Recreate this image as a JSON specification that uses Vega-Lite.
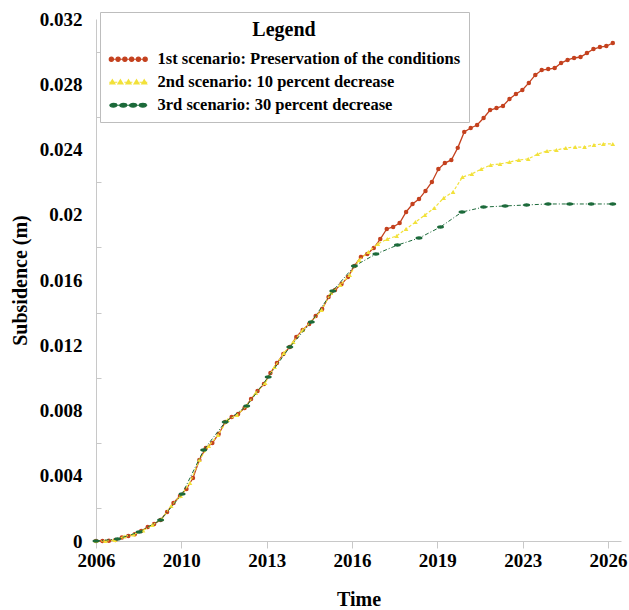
{
  "$schema": "https://vega.github.io/schema/vega-lite/v6.json",
  "autosize": {"type": "none"},
  "width": 525,
  "height": 522,
  "padding": {"left": 96, "top": 19, "right": 8, "bottom": 69},
  "background": "white",
  "datasets": {
    "s1": [
      {"t":0,"v":0},{"t":0.076,"v":0},{"t":0.151,"v":0.00001},{"t":0.227,"v":0.00006},{"t":0.303,"v":0.00021},{"t":0.379,"v":0.00031},{"t":0.454,"v":0.00042},{"t":0.530,"v":0.00061},{"t":0.606,"v":0.00086},{"t":0.681,"v":0.00104},
      {"t":0.757,"v":0.00129},{"t":0.833,"v":0.00178},{"t":0.908,"v":0.00233},{"t":0.984,"v":0.00276},{"t":1.060,"v":0.00319},{"t":1.136,"v":0.00386},{"t":1.211,"v":0.00497},{"t":1.287,"v":0.00570},{"t":1.363,"v":0.00601},{"t":1.438,"v":0.00656},
      {"t":1.514,"v":0.00729},{"t":1.590,"v":0.00760},{"t":1.665,"v":0.00779},{"t":1.741,"v":0.00815},{"t":1.817,"v":0.00870},{"t":1.893,"v":0.00920},{"t":1.968,"v":0.00962},{"t":2.044,"v":0.01030},{"t":2.120,"v":0.01091},{"t":2.195,"v":0.01146},
      {"t":2.271,"v":0.01189},{"t":2.347,"v":0.01251},{"t":2.422,"v":0.01293},{"t":2.498,"v":0.01330},{"t":2.574,"v":0.01379},{"t":2.650,"v":0.01422},{"t":2.725,"v":0.01496},{"t":2.801,"v":0.01539},{"t":2.877,"v":0.01575},{"t":2.952,"v":0.01618},
      {"t":3.028,"v":0.01686},{"t":3.104,"v":0.01741},{"t":3.179,"v":0.01759},{"t":3.255,"v":0.01796},{"t":3.331,"v":0.01851},{"t":3.407,"v":0.01913},{"t":3.482,"v":0.01925},{"t":3.558,"v":0.01949},{"t":3.634,"v":0.02017},{"t":3.709,"v":0.02066},
      {"t":3.785,"v":0.02096},{"t":3.861,"v":0.02146},{"t":3.936,"v":0.02201},{"t":4.012,"v":0.02280},{"t":4.088,"v":0.02317},{"t":4.164,"v":0.02336},{"t":4.239,"v":0.02410},{"t":4.315,"v":0.02508},{"t":4.391,"v":0.02532},{"t":4.466,"v":0.02550},
      {"t":4.542,"v":0.02593},{"t":4.618,"v":0.02642},{"t":4.693,"v":0.02654},{"t":4.769,"v":0.02667},{"t":4.845,"v":0.02709},{"t":4.921,"v":0.02740},{"t":4.996,"v":0.02765},{"t":5.072,"v":0.02808},{"t":5.148,"v":0.02857},{"t":5.223,"v":0.02887},
      {"t":5.299,"v":0.02893},{"t":5.375,"v":0.02899},{"t":5.450,"v":0.02930},{"t":5.526,"v":0.02949},{"t":5.602,"v":0.02961},{"t":5.678,"v":0.02967},{"t":5.753,"v":0.02991},{"t":5.829,"v":0.03016},{"t":5.905,"v":0.03028},{"t":5.980,"v":0.03034},
      {"t":6.056,"v":0.03053}
    ],
    "s2": [
      {"t":0,"v":0},{"t":0.110,"v":0},{"t":0.220,"v":0.00006},{"t":0.330,"v":0.00028},{"t":0.440,"v":0.00040},{"t":0.551,"v":0.00064},{"t":0.661,"v":0.00098},{"t":0.771,"v":0.00135},{"t":0.881,"v":0.00215},{"t":0.991,"v":0.00276},
      {"t":1.101,"v":0.00356},{"t":1.211,"v":0.00497},{"t":1.321,"v":0.00582},{"t":1.431,"v":0.00650},{"t":1.541,"v":0.00742},{"t":1.652,"v":0.00772},{"t":1.762,"v":0.00828},{"t":1.872,"v":0.00907},{"t":1.982,"v":0.00969},{"t":2.092,"v":0.01067},
      {"t":2.202,"v":0.01152},{"t":2.312,"v":0.01220},{"t":2.422,"v":0.01293},{"t":2.532,"v":0.01349},{"t":2.642,"v":0.01416},{"t":2.753,"v":0.01520},{"t":2.863,"v":0.01569},{"t":2.973,"v":0.01631},{"t":3.083,"v":0.01723},{"t":3.193,"v":0.01772},
      {"t":3.303,"v":0.01821},{"t":3.413,"v":0.01851},{"t":3.523,"v":0.01870},{"t":3.633,"v":0.01913},{"t":3.743,"v":0.01955},{"t":3.854,"v":0.01998},{"t":3.964,"v":0.02041},{"t":4.074,"v":0.02103},{"t":4.184,"v":0.02140},{"t":4.294,"v":0.02231},
      {"t":4.404,"v":0.02250},{"t":4.514,"v":0.02280},{"t":4.624,"v":0.02305},{"t":4.734,"v":0.02311},{"t":4.844,"v":0.02323},{"t":4.955,"v":0.02336},{"t":5.065,"v":0.02342},{"t":5.175,"v":0.02372},{"t":5.285,"v":0.02391},{"t":5.395,"v":0.02397},
      {"t":5.505,"v":0.02409},{"t":5.615,"v":0.02415},{"t":5.725,"v":0.02415},{"t":5.835,"v":0.02428},{"t":5.945,"v":0.02434},{"t":6.056,"v":0.02434}
    ],
    "s3": [
      {"t":0,"v":0},{"t":0.252,"v":0.00012},{"t":0.505,"v":0.00055},{"t":0.757,"v":0.00129},{"t":1.009,"v":0.00288},{"t":1.262,"v":0.00558},{"t":1.514,"v":0.00729},{"t":1.766,"v":0.00828},{"t":2.018,"v":0.01005},{"t":2.271,"v":0.01189},
      {"t":2.523,"v":0.01342},{"t":2.775,"v":0.01533},{"t":3.028,"v":0.01686},{"t":3.280,"v":0.01759},{"t":3.532,"v":0.01814},{"t":3.785,"v":0.01857},{"t":4.037,"v":0.01925},{"t":4.289,"v":0.02017},{"t":4.542,"v":0.02047},{"t":4.794,"v":0.02054},
      {"t":5.046,"v":0.02060},{"t":5.298,"v":0.02066},{"t":5.551,"v":0.02066},{"t":5.803,"v":0.02066},{"t":6.055,"v":0.02066}
    ]
  },
  "encoding": {
    "x": {
      "field": "t", "type": "quantitative",
      "scale": {"domain": [0, 6.152], "nice": false, "zero": false},
      "axis": {
        "values": [0, 1, 2, 3, 4, 5, 6],
        "labelExpr": "['2006','2010','2013','2016','2019','2023','2026'][datum.value]",
        "tickSize": 7, "labelPadding": 3, "title": "Time", "titlePadding": 19
      }
    },
    "y": {
      "field": "v", "type": "quantitative",
      "scale": {"domain": [0, 0.032], "nice": false},
      "axis": {
        "values": [0, 0.002, 0.004, 0.006, 0.008, 0.010, 0.012, 0.014, 0.016, 0.018, 0.020, 0.022, 0.024, 0.026, 0.028, 0.030, 0.032],
        "labelExpr": "(round(datum.value*1000) % 4 == 0) ? format(datum.value, '~g') : ''",
        "tickOpacity": {"condition": {"test": "round(datum.value*1000) % 4 != 0", "value": 1}, "value": 0},
        "tickSize": -5, "labelPadding": 19, "title": "Subsidence (m)", "titlePadding": 9
      }
    }
  },
  "layer": [
    {
      "data": {"name": "s1"},
      "layer": [
        {
          "mark": {"type": "line", "strokeWidth": 1.3},
          "encoding": {
            "color": {
              "datum": "1st scenario: Preservation of the conditions",
              "type": "nominal",
              "scale": {
                "domain": ["1st scenario: Preservation of the conditions", "2nd scenario: 10 percent decrease", "3rd scenario: 30 percent decrease"],
                "range": ["#C4411E", "#F2E13A", "#1C6A3A"]
              },
              "legend": {
                "title": "Legend",
                "orient": "none",
                "legendX": 4,
                "legendY": -7,
                "fillColor": "white",
                "strokeColor": "#BDBDBD",
                "padding": 8,
                "titleFont": "Liberation Serif",
                "titleFontSize": 20,
                "titleFontWeight": "bold",
                "titleColor": "black",
                "titleAnchor": "middle",
                "titlePadding": 11,
                "labelFont": "Liberation Serif",
                "labelFontSize": 16.5,
                "labelFontWeight": "bold",
                "labelColor": "black",
                "labelLimit": 500,
                "labelOffset": 33,
                "rowPadding": 6,
                "symbolSize": 196,
                "symbolStrokeWidth": 1.2,
                "encode": {
                  "symbols": {
                    "update": {
                      "shape": {"signal": "indexof(datum.value, '1st') == 0 ? 'M-1,0H4.43M-1,0a0.3,0.3 0 1,0 0.6,0a0.3,0.3 0 1,0 -0.6,0M-0.034,0a0.3,0.3 0 1,0 0.6,0a0.3,0.3 0 1,0 -0.6,0M0.932,0a0.3,0.3 0 1,0 0.6,0a0.3,0.3 0 1,0 -0.6,0M1.898,0a0.3,0.3 0 1,0 0.6,0a0.3,0.3 0 1,0 -0.6,0M2.864,0a0.3,0.3 0 1,0 0.6,0a0.3,0.3 0 1,0 -0.6,0M3.83,0a0.3,0.3 0 1,0 0.6,0a0.3,0.3 0 1,0 -0.6,0' : (indexof(datum.value, '2nd') == 0 ? 'M-1,0H-0.57M-0.28,0H0.15M0.44,0H0.87M1.16,0H1.59M1.88,0H2.31M2.6,0H3.03M3.32,0H3.75M4.04,0H4.43M-0.55,-0.36L-0.19,0.24L-0.91,0.24ZM0.6,-0.36L0.96,0.24L0.24,0.24ZM1.75,-0.36L2.11,0.24L1.39,0.24ZM2.9,-0.36L3.26,0.24L2.54,0.24ZM4.0,-0.36L4.36,0.24L3.64,0.24Z' : 'M-1,0H4.43M-0.9,0a0.5,0.26 0 1,0 1,0a0.5,0.26 0 1,0 -1,0M0.5,0a0.5,0.26 0 1,0 1,0a0.5,0.26 0 1,0 -1,0M1.9,0a0.5,0.26 0 1,0 1,0a0.5,0.26 0 1,0 -1,0M3.3,0a0.5,0.26 0 1,0 1,0a0.5,0.26 0 1,0 -1,0')"},
                      "fill": {"scale": "color", "field": "value"},
                      "stroke": {"scale": "color", "field": "value"},
                      "strokeWidth": {"value": 1.2},
                      "opacity": {"value": 1}
                    }
                  }
                }
              }
            }
          }
        },
        {
          "mark": {"type": "point", "shape": "circle", "filled": true, "size": 20, "opacity": 1},
          "encoding": {"color": {"datum": "1st scenario: Preservation of the conditions", "type": "nominal"}}
        }
      ]
    },
    {
      "data": {"name": "s2"},
      "layer": [
        {
          "mark": {"type": "line", "strokeWidth": 1.2, "strokeDash": [3, 2]},
          "encoding": {"color": {"datum": "2nd scenario: 10 percent decrease", "type": "nominal"}}
        },
        {
          "mark": {"type": "point", "shape": "triangle-up", "filled": true, "size": 22, "opacity": 1},
          "encoding": {"color": {"datum": "2nd scenario: 10 percent decrease", "type": "nominal"}}
        }
      ]
    },
    {
      "data": {"name": "s3"},
      "layer": [
        {
          "mark": {"type": "line", "strokeWidth": 1, "strokeDash": [4, 2, 1, 2]},
          "encoding": {"color": {"datum": "3rd scenario: 30 percent decrease", "type": "nominal"}}
        },
        {
          "mark": {"type": "point", "shape": "M-1,0A1,0.5 0 1,0 1,0A1,0.5 0 1,0 -1,0Z", "filled": true, "size": 49, "opacity": 1},
          "encoding": {"color": {"datum": "3rd scenario: 30 percent decrease", "type": "nominal"}}
        }
      ]
    }
  ],
  "config": {
    "view": {"stroke": null},
    "axis": {
      "grid": false,
      "domainColor": "#C8C8C8",
      "tickColor": "#C8C8C8",
      "labelFont": "Liberation Serif",
      "labelFontSize": 19,
      "labelFontWeight": "bold",
      "labelColor": "black",
      "labelFlush": false,
      "labelOverlap": false,
      "titleFont": "Liberation Serif",
      "titleFontSize": 20,
      "titleFontWeight": "bold",
      "titleColor": "black"
    }
  }
}
